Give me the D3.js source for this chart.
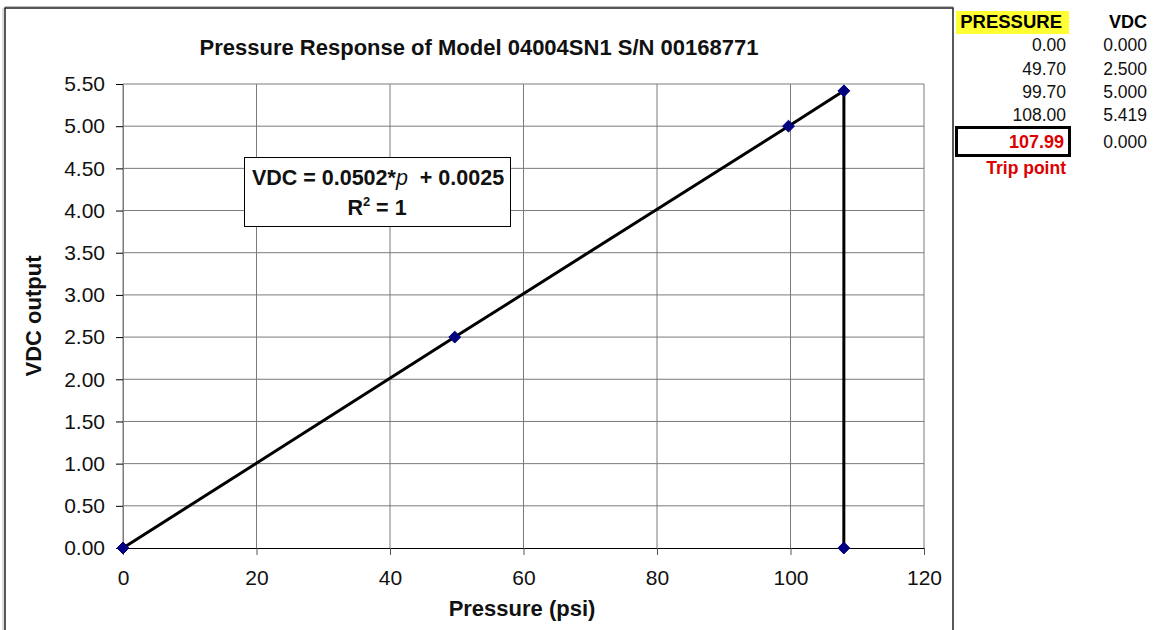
<!DOCTYPE html>
<html><head><meta charset="utf-8">
<script src="https://cdn.jsdelivr.net/npm/d3@7"></script>
<style>
body{margin:0;background:#fff;}
text{font-family:"Liberation Sans",Arial,sans-serif;white-space:pre;}
</style></head>
<body><svg id="c" width="1163" height="630"></svg>
<script>
const pressure = [0, 49.7, 99.7, 108, 107.99];
const vdc = [0, 2.5, 5.0, 5.419, 0];
const tablePressure = ["0.00", "49.70", "99.70", "108.00"];
const tableVdc = ["0.000", "2.500", "5.000", "5.419"];
const tripPressure = "107.99";
const tripVdc = "0.000";
const xTicks = [0, 20, 40, 60, 80, 100, 120];
const yTicks = [0, 0.5, 1, 1.5, 2, 2.5, 3, 3.5, 4, 4.5, 5, 5.5];
const title = "Pressure Response of Model 04004SN1 S/N 00168771";

const svg = d3.select("#c");
svg.append("path").attr("d","M5,640 L5,8 L953,8 L953,640").attr("fill","none").attr("stroke","#222").attr("stroke-width",1.5);
svg.append("line").attr("x1",3).attr("x2",3).attr("y1",8).attr("y2",640).attr("stroke","#bbb").attr("stroke-width",1);
svg.append("line").attr("x1",5).attr("x2",953).attr("y1",6.5).attr("y2",6.5).attr("stroke","#bbb").attr("stroke-width",1);

const x = d3.scaleLinear().domain([0,120]).range([123,924]);
const y = d3.scaleLinear().domain([0,5.5]).range([548,84]);

const g = svg.append("g");
g.selectAll(".vg").data(xTicks).join("line")
 .attr("x1",d=>x(d)).attr("x2",d=>x(d)).attr("y1",y(5.5)).attr("y2",y(0))
 .attr("stroke","#7a7a7a").attr("stroke-width",1);
g.selectAll(".hg").data(yTicks.filter(d=>d>0)).join("line")
 .attr("x1",x(0)).attr("x2",x(120)).attr("y1",d=>y(d)).attr("y2",d=>y(d))
 .attr("stroke","#7a7a7a").attr("stroke-width",1);

const xa = svg.append("g").attr("transform",`translate(0,${y(0)})`)
 .call(d3.axisBottom(x).tickValues(xTicks).tickSize(7).tickPadding(15).tickSizeOuter(0));
xa.select(".domain").attr("stroke","#000");
xa.selectAll("line").attr("stroke","#555");
xa.selectAll("text").attr("font-size",21).attr("fill","#111").attr("font-family","Liberation Sans, Arial, sans-serif");
const ya = svg.append("g").attr("transform",`translate(${x(0)},0)`)
 .call(d3.axisLeft(y).tickValues(yTicks).tickFormat(d3.format(".2f")).tickSize(7).tickPadding(11).tickSizeOuter(0));
ya.select(".domain").attr("stroke","#7a7a7a");
ya.selectAll("line").attr("stroke","#000");
ya.selectAll("text").attr("font-size",21).attr("fill","#111").attr("font-family","Liberation Sans, Arial, sans-serif");

const pts = pressure.map((p,i)=>[p,vdc[i]]);
svg.append("path").datum(pts)
 .attr("d",d3.line().x(d=>x(d[0])).y(d=>y(d[1])))
 .attr("fill","none").attr("stroke","#000").attr("stroke-width",3);
svg.selectAll(".mk").data(pts).join("path")
 .attr("transform",d=>`translate(${x(d[0])},${y(d[1])})`)
 .attr("d",d3.symbol(d3.symbolDiamond2,90))
 .attr("fill","#000080").attr("stroke","#000080").attr("stroke-width",1);

svg.append("text").attr("x",479).attr("y",55).attr("text-anchor","middle")
 .attr("font-size",22).attr("font-weight","bold").attr("fill","#111").text(title);
svg.append("text").attr("x",522).attr("y",616).attr("text-anchor","middle")
 .attr("font-size",22).attr("font-weight","bold").attr("fill","#111").text("Pressure (psi)");
svg.append("text").attr("transform","translate(41,316) rotate(-90)").attr("text-anchor","middle")
 .attr("font-size",22).attr("font-weight","bold").attr("fill","#111").text("VDC output");

svg.append("rect").attr("x",244.5).attr("y",157.5).attr("width",266).attr("height",69)
 .attr("fill","#fff").attr("stroke","#000").attr("stroke-width",1);
const eq = svg.append("text").attr("x",378).attr("y",185).attr("text-anchor","middle")
 .attr("font-size",21.5).attr("font-weight","bold").attr("fill","#111");
eq.append("tspan").text("VDC = 0.0502*");
eq.append("tspan").attr("font-style","italic").attr("font-weight","normal").text("p");
eq.append("tspan").text("  + 0.0025");
const r2 = svg.append("text").attr("x",377).attr("y",215).attr("text-anchor","middle")
 .attr("font-size",21.5).attr("font-weight","bold").attr("fill","#111");
r2.append("tspan").text("R");
r2.append("tspan").attr("font-size",13).attr("dy",-9).text("2");
r2.append("tspan").attr("dy",9).text(" = 1");

svg.append("rect").attr("x",956).attr("y",11).attr("width",113).attr("height",23).attr("fill","#ffff33");
svg.append("text").attr("x",1062).attr("y",28).attr("text-anchor","end").attr("font-size",18.5).attr("font-weight","bold").attr("fill","#000").text("PRESSURE");
svg.append("text").attr("x",1147).attr("y",28).attr("text-anchor","end").attr("font-size",18).attr("font-weight","bold").attr("fill","#000").text("VDC");
const rowY = [51, 75, 98, 121];
svg.selectAll(".tp").data(tablePressure).join("text")
 .attr("x",1066).attr("y",(d,i)=>rowY[i]).attr("text-anchor","end").attr("font-size",17.5).attr("fill","#111").text(d=>d);
svg.selectAll(".tv").data(tableVdc).join("text")
 .attr("x",1147).attr("y",(d,i)=>rowY[i]).attr("text-anchor","end").attr("font-size",17.5).attr("fill","#111").text(d=>d);
svg.append("rect").attr("x",956.5).attr("y",127.5).attr("width",113).attr("height",28).attr("fill","#fff").attr("stroke","#000").attr("stroke-width",3);
svg.append("text").attr("x",1064).attr("y",148).attr("text-anchor","end").attr("font-size",18).attr("font-weight","bold").attr("fill","#dd0000").text(tripPressure);
svg.append("text").attr("x",1147).attr("y",148).attr("text-anchor","end").attr("font-size",17.5).attr("fill","#111").text(tripVdc);
svg.append("text").attr("x",1066).attr("y",174).attr("text-anchor","end").attr("font-size",17.5).attr("font-weight","bold").attr("fill","#dd0000").text("Trip point");
</script></body></html>
